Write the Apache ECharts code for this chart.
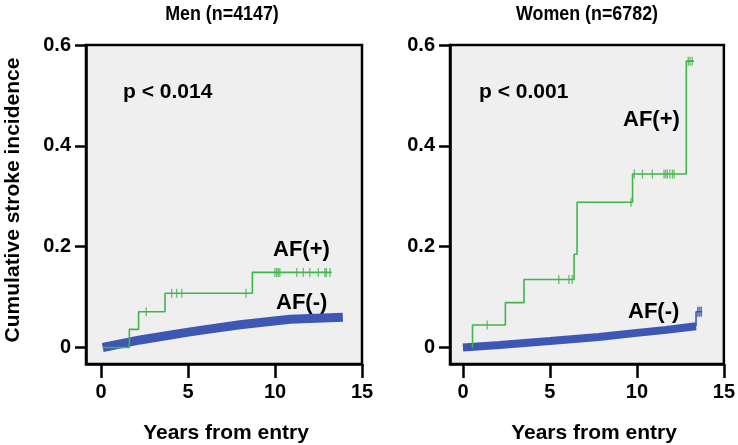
<!DOCTYPE html>
<html>
<head>
<meta charset="utf-8">
<script src="https://cdn.jsdelivr.net/npm/echarts@6/dist/echarts.min.js"></script>
<style>
html,body{margin:0;padding:0;background:#fff;}
#chart{width:738px;height:445px;}
</style>
</head>
<body>
<div id="chart"></div>
<script>
// ---------- data ----------
var panelTitles = ['Men (n=4147)', 'Women (n=6782)'];
var pValues = ['p < 0.014', 'p < 0.001'];
var xTicks = [0, 5, 10, 15];
var yTicks = [0, 0.2, 0.4, 0.6];

// Men, AF(+) : Kaplan-Meier steps (time, cumulative incidence after step)
var menPosT = [0.1, 1.63, 2.16, 3.68, 8.70, 13.26];
var menPosY = [0.0, 0.036, 0.071, 0.1075, 0.149, 0.149];
var menPosCensor = [2.6, 4.06, 4.35, 4.64, 8.33, 10.0, 10.1, 10.19, 10.28, 11.25, 11.63, 12.0, 12.49, 12.87, 12.95, 13.16];

// Men, AF(-) : dense curve
var menNegT = [0.1, 2.24, 5.11, 7.99, 10.86, 13.9];
var menNegY = [0.0, 0.015, 0.031, 0.045, 0.056, 0.060];

// Women, AF(+)
var womPosT = [0.55, 0.55, 2.44, 3.51, 6.39, 6.56, 9.75, 12.84, 13.28];
var womPosY = [0.0, 0.0446, 0.089, 0.135, 0.185, 0.288, 0.344, 0.568, 0.568];
var womPosCensor = [1.39, 5.51, 6.09, 6.28, 9.66, 9.85, 10.32, 10.89, 11.56, 11.66, 11.75, 11.89, 12.04, 12.14, 12.95, 13.05, 13.18];

// Women, AF(-)
var womNegT = [0.0, 2.1, 5.0, 7.8, 10.0, 11.7, 13.4];
var womNegY = [0.0, 0.005, 0.013, 0.021, 0.029, 0.035, 0.042];
var womNegTailT = [13.4, 13.4, 13.75];
var womNegTailY = [0.042, 0.071, 0.071];
var womNegCensor = [13.5, 13.6, 13.7];

// ---------- helpers ----------
function zip(T, Y) { return T.map(function (t, i) { return [t, Y[i]]; }); }
function stepAt(T, Y, t) {
  var v = Y[0];
  for (var i = 0; i < T.length; i++) { if (T[i] <= t) v = Y[i]; }
  return v;
}
function censorPts(C, T, Y) { return C.map(function (t) { return [t, stepAt(T, Y, t)]; }); }

var GREEN = '#3fb54b';
var BLUE = '#3f57b4';
var FONT = '"Liberation Sans", Arial, Helvetica, sans-serif';
var tick = 'path://M0,0H1V1H0Z';

var chart = echarts.init(document.getElementById('chart'), null, {renderer: 'canvas'});

function xAxisCfg(idx, min) {
  return {
    type: 'value', gridIndex: idx, min: min, max: 15,
    axisLine: {show: true, onZero: false, lineStyle: {color: '#000', width: 2.5}},
    axisTick: {show: true, length: 14, customValues: xTicks, lineStyle: {color: '#000', width: 2.5}},
    axisLabel: {customValues: xTicks, fontSize: 20, fontWeight: 'bold', color: '#000', margin: 18, fontFamily: FONT},
    splitLine: {show: false}
  };
}
function yAxisCfg(idx) {
  return {
    type: 'value', gridIndex: idx, min: -0.0327, max: 0.6,
    axisLine: {show: true, onZero: false, lineStyle: {color: '#000', width: 2.5}},
    axisTick: {show: true, length: 11, customValues: yTicks, lineStyle: {color: '#000', width: 2.5}},
    axisLabel: {customValues: yTicks, fontSize: 20, fontWeight: 'bold', color: '#000', margin: 15, fontFamily: FONT,
      formatter: function (v) { return v === 0 ? '0' : v.toFixed(1); }},
    splitLine: {show: false}
  };
}

var titleFont = 'bold 21px "Liberation Sans", Arial';

var option = {
  animation: false,
  backgroundColor: '#fff',
  grid: [
    {left: 86, top: 45, width: 276, height: 319, show: true, backgroundColor: '#efefef', borderColor: '#000', borderWidth: 2.5},
    {left: 450, top: 45, width: 275, height: 319, show: true, backgroundColor: '#efefef', borderColor: '#000', borderWidth: 2.5}
  ],
  xAxis: [xAxisCfg(0, -0.862), xAxisCfg(1, -0.744)],
  yAxis: [yAxisCfg(0), yAxisCfg(1)],
  graphic: [
    {type: 'text', x: 222, y: 14, scaleX: 0.85, style: {text: panelTitles[0], font: titleFont, fill: '#000', align: 'center', verticalAlign: 'middle'}},
    {type: 'text', x: 587, y: 14, scaleX: 0.85, style: {text: panelTitles[1], font: titleFont, fill: '#000', align: 'center', verticalAlign: 'middle'}},
    {type: 'text', x: 13, y: 200, rotation: Math.PI / 2, style: {text: 'Cumulative stroke incidence', font: 'bold 21px ' + FONT, fill: '#000', align: 'center', verticalAlign: 'middle'}},
    {type: 'text', x: 226, y: 433, style: {text: 'Years from entry', font: 'bold 21px ' + FONT, fill: '#000', align: 'center', verticalAlign: 'middle'}},
    {type: 'text', x: 594, y: 433, style: {text: 'Years from entry', font: 'bold 21px ' + FONT, fill: '#000', align: 'center', verticalAlign: 'middle'}},
    {type: 'text', x: 123, y: 92, style: {text: pValues[0], font: 'bold 21px ' + FONT, fill: '#000', align: 'left', verticalAlign: 'middle'}},
    {type: 'text', x: 479, y: 92, style: {text: pValues[1], font: 'bold 21px ' + FONT, fill: '#000', align: 'left', verticalAlign: 'middle'}},
    {type: 'text', x: 273, y: 250, style: {text: 'AF(+)', font: 'bold 22px ' + FONT, fill: '#000', align: 'left', verticalAlign: 'middle'}},
    {type: 'text', x: 276, y: 303, style: {text: 'AF(-)', font: 'bold 22px ' + FONT, fill: '#000', align: 'left', verticalAlign: 'middle'}},
    {type: 'text', x: 623, y: 120, style: {text: 'AF(+)', font: 'bold 22px ' + FONT, fill: '#000', align: 'left', verticalAlign: 'middle'}},
    {type: 'text', x: 628, y: 312, style: {text: 'AF(-)', font: 'bold 22px ' + FONT, fill: '#000', align: 'left', verticalAlign: 'middle'}}
  ],
  series: [
    // Men
    {type: 'line', xAxisIndex: 0, yAxisIndex: 0, data: zip(menNegT, menNegY), symbol: 'none',
      lineStyle: {color: BLUE, width: 9}, z: 2},
    {type: 'line', xAxisIndex: 0, yAxisIndex: 0, data: zip(menPosT, menPosY), step: 'end', symbol: 'none',
      lineStyle: {color: GREEN, width: 1.6}, z: 3},
    {type: 'scatter', xAxisIndex: 0, yAxisIndex: 0, data: censorPts(menPosCensor, menPosT, menPosY),
      symbol: tick, symbolSize: [1.3, 9], symbolKeepAspect: false, itemStyle: {color: GREEN}, z: 4},
    // Women
    {type: 'line', xAxisIndex: 1, yAxisIndex: 1, data: zip(womNegT, womNegY), symbol: 'none',
      lineStyle: {color: BLUE, width: 8}, z: 2},
    {type: 'line', xAxisIndex: 1, yAxisIndex: 1, data: zip(womNegTailT, womNegTailY), symbol: 'none',
      lineStyle: {color: BLUE, width: 1.6}, z: 2},
    {type: 'scatter', xAxisIndex: 1, yAxisIndex: 1, data: censorPts(womNegCensor, womNegTailT, womNegTailY),
      symbol: tick, symbolSize: [1.6, 10], itemStyle: {color: BLUE}, z: 4},
    {type: 'line', xAxisIndex: 1, yAxisIndex: 1, data: zip(womPosT, womPosY), step: 'end', symbol: 'none',
      lineStyle: {color: GREEN, width: 1.6}, z: 3},
    {type: 'scatter', xAxisIndex: 1, yAxisIndex: 1, data: censorPts(womPosCensor, womPosT, womPosY),
      symbol: tick, symbolSize: [1.3, 9], itemStyle: {color: GREEN}, z: 4}
  ]
};
chart.setOption(option);
</script>
</body>
</html>
